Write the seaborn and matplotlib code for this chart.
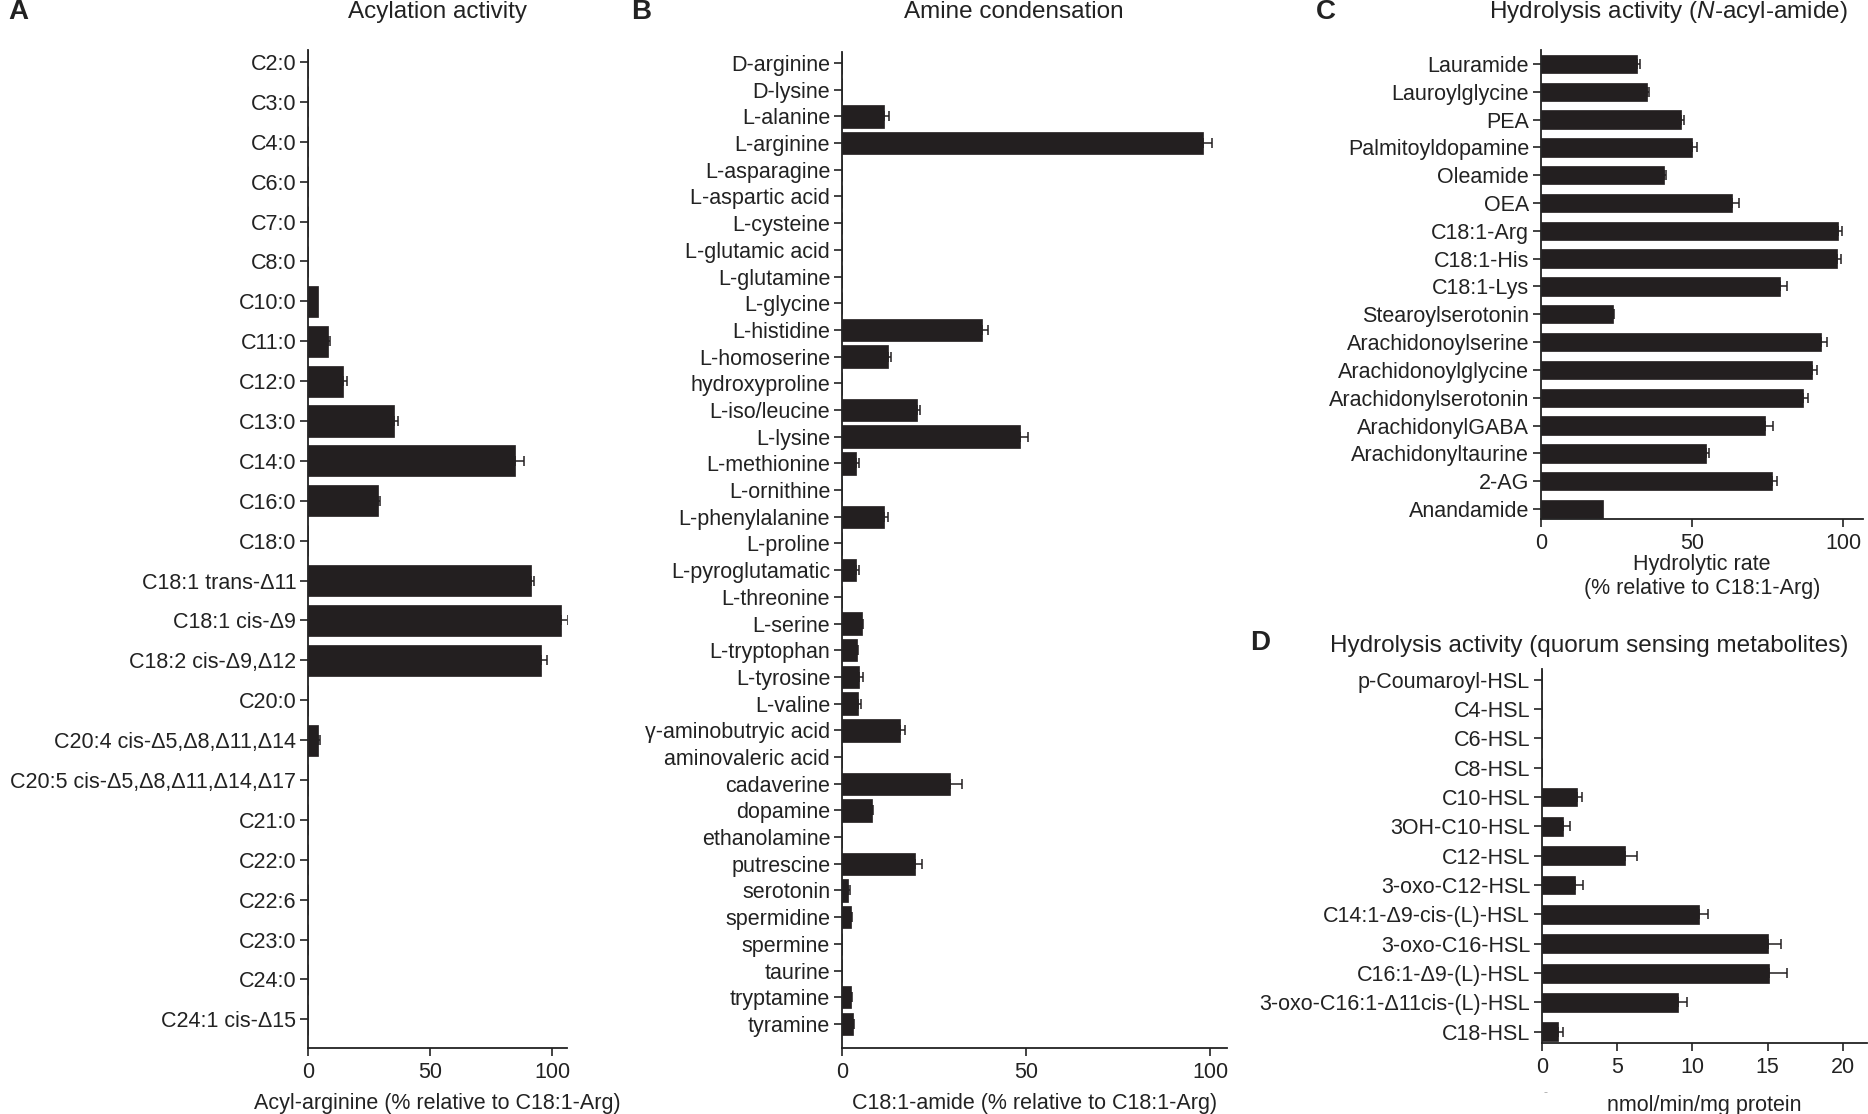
import numpy as np
import pandas as pd
import matplotlib
matplotlib.use("Agg")
import matplotlib.pyplot as plt
import seaborn as sns

sns.set_style("ticks")
plt.rcParams['font.family'] = ['Liberation Sans', 'DejaVu Sans']
plt.rcParams['mathtext.fontset'] = 'custom'
plt.rcParams['mathtext.it'] = 'Liberation Sans:italic'
plt.rcParams['mathtext.rm'] = 'Liberation Sans'

BAR = '#231f20'

# panel A - acylation activity
acyl_labels = ["C2:0", "C3:0", "C4:0", "C6:0", "C7:0", "C8:0", "C10:0", "C11:0", "C12:0",
               "C13:0", "C14:0", "C16:0", "C18:0", "C18:1 trans-Δ11", "C18:1 cis-Δ9",
               "C18:2 cis-Δ9,Δ12", "C20:0", "C20:4 cis-Δ5,Δ8,Δ11,Δ14",
               "C20:5 cis-Δ5,Δ8,Δ11,Δ14,Δ17", "C21:0", "C22:0", "C22:6", "C23:0",
               "C24:0", "C24:1 cis-Δ15"]
acyl_vals = [0, 0, 0, 0, 0, 0, 4.3, 8.2, 14.5, 35.4, 85.0, 28.5, 0, 91.3, 103.6, 95.3,
             0, 4.3, 0, 0, 0, 0, 0, 0, 0]
acyl_err = [0, 0, 0, 0, 0, 0, 0, 0.7, 1.3, 1.5, 3.6, 1.1, 0, 1.1, 3.0, 2.7,
            0, 0.6, 0, 0, 0, 0, 0, 0, 0]

# panel B - amine condensation
amine_labels = ["D-arginine", "D-lysine", "L-alanine", "L-arginine", "L-asparagine",
                "L-aspartic acid", "L-cysteine", "L-glutamic acid", "L-glutamine",
                "L-glycine", "L-histidine", "L-homoserine", "hydroxyproline",
                "L-iso/leucine", "L-lysine", "L-methionine", "L-ornithine",
                "L-phenylalanine", "L-proline", "L-pyroglutamatic", "L-threonine",
                "L-serine", "L-tryptophan", "L-tyrosine", "L-valine",
                "γ-aminobutryic acid", "aminovaleric acid", "cadaverine", "dopamine",
                "ethanolamine", "putrescine", "serotonin", "spermidine", "spermine",
                "taurine", "tryptamine", "tyramine"]
amine_vals = [0, 0, 11.5, 98.0, 0, 0, 0, 0, 0, 0, 38.0, 12.6, 0, 20.3, 48.3, 3.8, 0,
              11.5, 0, 3.8, 0, 5.4, 4.1, 4.7, 4.3, 15.7, 0, 29.3, 8.1, 0, 19.9, 1.7,
              2.4, 0, 0, 2.4, 2.9]
amine_err = [0, 0, 1.4, 2.6, 0, 0, 0, 0, 0, 0, 1.8, 0.8, 0, 0.9, 2.3, 0.8, 0,
             0.9, 0, 0.8, 0, 0.4, 0.2, 1.0, 0.8, 1.4, 0, 3.3, 0.3, 0, 1.8, 0.4,
             0.3, 0, 0, 0.3, 0.3]

# panel C - hydrolysis of N-acyl-amides
hydro_labels = ["Lauramide", "Lauroylglycine", "PEA", "Palmitoyldopamine", "Oleamide",
                "OEA", "C18:1-Arg", "C18:1-His", "C18:1-Lys", "Stearoylserotonin",
                "Arachidonoylserine", "Arachidonoylglycine", "Arachidonylserotonin",
                "ArachidonylGABA", "Arachidonyltaurine", "2-AG", "Anandamide"]
hydro_vals = [31.8, 35.1, 46.4, 50.1, 40.7, 63.2, 98.3, 98.0, 79.1, 23.8, 92.7, 89.7,
              86.6, 74.0, 54.6, 76.4, 20.5]
hydro_err = [0.9, 0.7, 0.8, 1.6, 0.8, 2.4, 1.3, 1.3, 2.4, 0.3, 2.0, 1.7, 1.8, 2.8,
             1.0, 1.7, 0]

# panel D - quorum sensing metabolites
qs_labels = ["p-Coumaroyl-HSL", "C4-HSL", "C6-HSL", "C8-HSL", "C10-HSL", "3OH-C10-HSL",
             "C12-HSL", "3-oxo-C12-HSL", "C14:1-Δ9-cis-(L)-HSL", "3-oxo-C16-HSL",
             "C16:1-Δ9-(L)-HSL", "3-oxo-C16:1-Δ11cis-(L)-HSL", "C18-HSL"]
qs_vals = [0, 0, 0, 0, 2.35, 1.4, 5.5, 2.2, 10.45, 15.0, 15.1, 9.07, 1.07]
qs_err = [0, 0, 0, 0, 0.3, 0.45, 0.8, 0.5, 0.6, 0.9, 1.2, 0.6, 0.3]


W, H = 1868, 1114
fig = plt.figure(figsize=(W / 100, H / 100), dpi=100)
FS = 15.5


def make_axes(left, right, top, bottom):
	return fig.add_axes([left / W, 1 - bottom / H, (right - left) / W, (bottom - top) / H])


def draw_panel(ax, labels, vals, errs, width, xlim, ylim, xticks, xlabel, labelpad=8):
	df = pd.DataFrame({'name': labels, 'value': vals})
	sns.barplot(data=df, x='value', y='name', order=labels, color=BAR, saturation=1,
				width=width, edgecolor=BAR, linewidth=0.5, errorbar=None, ax=ax)
	pos = np.arange(len(labels))
	vals = np.array(vals)
	errs = np.array(errs)
	m = errs > 0
	ax.errorbar(vals[m], pos[m], xerr=[np.zeros(m.sum()), errs[m]], fmt='none',
				ecolor=BAR, elinewidth=1.1, capsize=3.5, capthick=1.1)
	ax.set_xlim(*xlim)
	ax.set_ylim(*ylim)
	ax.set_xticks(xticks)
	ax.set_xticklabels([str(t) for t in xticks])
	ax.set_ylabel('')
	ax.set_xlabel(xlabel, fontsize=FS, labelpad=labelpad, color='#222222')
	sns.despine(ax=ax)
	for s in ['left', 'bottom']:
		ax.spines[s].set_linewidth(1.3)
		ax.spines[s].set_color('#222222')
	ax.tick_params(axis='both', labelsize=FS, length=6, width=1.2, pad=4,
				   color='#222222', labelcolor='#222222')
	ax.tick_params(axis='y', length=5.5, pad=3)


axA = make_axes(308, 567, 50, 1048)
draw_panel(axA, acyl_labels, acyl_vals, acyl_err, 0.78, (0, 106.1), (24.72, -0.3),
		   [0, 50, 100], 'Acyl-arginine (% relative to C18:1-Arg)', labelpad=7)

axB = make_axes(842, 1227, 52, 1048)
draw_panel(axB, amine_labels, amine_vals, amine_err, 0.84, (0, 104.6), (36.9, -0.41),
		   [0, 50, 100], 'C18:1-amide (% relative to C18:1-Arg)', labelpad=7)

axC = make_axes(1541, 1863, 50, 519)
draw_panel(axC, hydro_labels, hydro_vals, hydro_err, 0.66, (0, 106.6), (16.36, -0.5),
		   [0, 50, 100], 'Hydrolytic rate\n(% relative to C18:1-Arg)', labelpad=0)

axD = make_axes(1542, 1867, 669, 1043)
draw_panel(axD, qs_labels, qs_vals, qs_err, 0.64, (0, 21.6), (12.38, -0.36),
		   [0, 5, 10, 15, 20], 'nmol/min/mg protein', labelpad=12)

# panel letters and titles
tc = '#222222'
TS = 17.5
fig.text(18 / W, 1 - 12 / H, 'A', fontsize=20, fontweight='bold', va='center', ha='center', color=tc)
fig.text(438 / W, 1 - 12 / H, 'Acylation activity', fontsize=TS, va='center', ha='center', color=tc)
fig.text(641 / W, 1 - 12 / H, 'B', fontsize=20, fontweight='bold', va='center', ha='center', color=tc)
fig.text(1014 / W, 1 - 12 / H, 'Amine condensation', fontsize=TS, va='center', ha='center', color=tc)
fig.text(1326 / W, 1 - 12 / H, 'C', fontsize=20, fontweight='bold', va='center', ha='center', color=tc)
fig.text(1668 / W, 1 - 12 / H, r'Hydrolysis activity ($\mathit{N}$-acyl-amide)', fontsize=TS,
		 va='center', ha='center', color=tc)
fig.text(1260 / W, 1 - 643 / H, 'D', fontsize=20, fontweight='bold', va='center', ha='center', color=tc)
fig.text(1589 / W, 1 - 646 / H, 'Hydrolysis activity (quorum sensing metabolites)', fontsize=TS,
		 va='center', ha='center', color=tc)
# small stray dash under panel D in the original
fig.text(1545 / W, 1 - 1093 / H, '-', fontsize=9, va='center', ha='center', color='#aaaaaa')

plt.savefig('out.png', dpi=100)
plt.close()
